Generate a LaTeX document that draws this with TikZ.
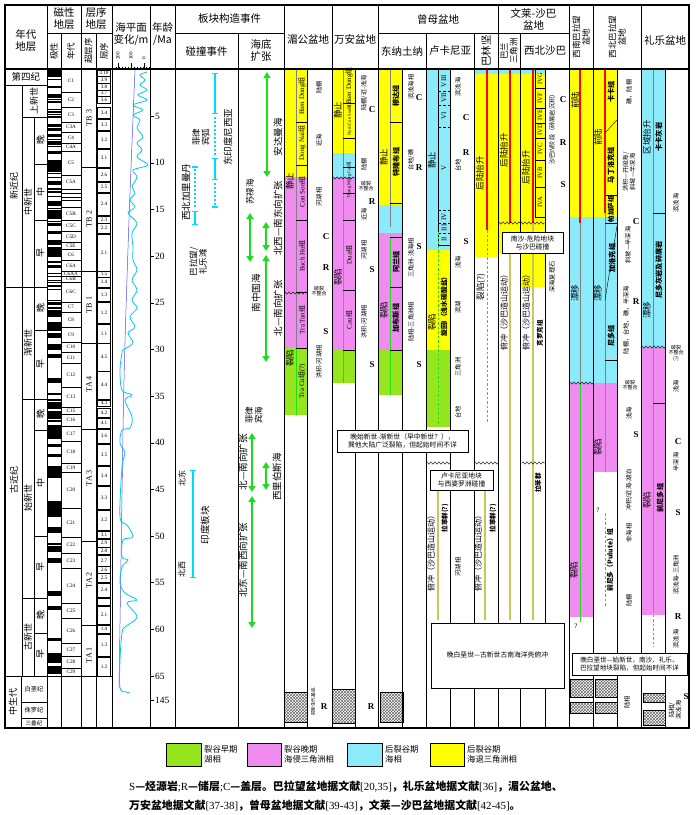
\documentclass[tikz,border=0pt]{standalone}
\usepackage{fontspec}
\setmainfont{Liberation Serif}
\newfontfamily\cjk{Noto Sans CJK SC}
\usepackage{xcolor}
\usetikzlibrary{arrows.meta, decorations.pathmorphing, patterns}

\definecolor{riftE}{RGB}{150,230,30}
\definecolor{riftL}{RGB}{240,140,240}
\definecolor{postM}{RGB}{140,235,250}
\definecolor{postR}{RGB}{255,255,0}
\definecolor{sprG}{RGB}{30,220,30}
\definecolor{barC}{RGB}{0,220,255}
\definecolor{seaC}{RGB}{0,200,240}
\definecolor{subL}{RGB}{200,200,90}

\newcommand{\zu}{{\cjk 组}}

\begin{document}
\begin{tikzpicture}[x=1pt,y=-1pt,
  thinl/.style={line width=0.4pt},
  thickl/.style={line width=0.9pt},
  hd/.style={font=\cjk\fontsize{10.5}{12}\selectfont, inner sep=0pt, align=center},
  shd/.style={font=\cjk\fontsize{8.5}{9.5}\selectfont, inner sep=0pt, align=center},
  lab/.style={font=\cjk\fontsize{6.2}{7}\selectfont, inner sep=0pt, align=center},
  vlab/.style={lab, rotate=90},
  stage/.style={font=\cjk\fontsize{8.5}{9}\selectfont, inner sep=0pt, rotate=90},
  fmz/.style={font=\cjk\bfseries\fontsize{7.2}{7.5}\selectfont, inner sep=0pt, rotate=90},
  tiny/.style={font=\cjk\fontsize{5}{5.6}\selectfont, inner sep=0pt, align=center},
  big/.style={font=\cjk\fontsize{9.5}{10.5}\selectfont, inner sep=0pt, align=center, rotate=90},
  chron/.style={font=\cjk\fontsize{9}{10}\selectfont, inner sep=0pt, align=center, rotate=90},
  fm/.style={font=\fontsize{7}{7}\selectfont, inner sep=0pt, rotate=90},
  crs/.style={font=\bfseries\fontsize{9}{9}\selectfont, inner sep=0pt},
  chr/.style={font=\fontsize{5.2}{5.4}\selectfont, inner sep=0pt},
  spread/.style={sprG, line width=1.5pt, {Triangle[length=6pt,width=7pt]}-{Triangle[length=6pt,width=7pt]}},
  ibar/.style={barC, line width=1.4pt, {Bar[width=6pt]}-{Bar[width=6pt]}},
  dbar/.style={barC, line width=1.4pt, dash pattern=on 2pt off 2pt},
  wavy/.style={decorate, decoration={zigzag, segment length=4pt, amplitude=1.2pt}},
  hatch/.style={pattern=crosshatch, pattern color=black!60},
  note/.style={font=\cjk\fontsize{6.8}{8}\selectfont, inner sep=0pt, align=center}
]
\useasboundingbox (0,0) rectangle (696,815);

% colour strips of the basins
\fill[postR] (284,69) rectangle (307,177);
\fill[riftL] (284,177) rectangle (307,348);
\fill[riftE] (284,348) rectangle (307,415);

\fill[postR] (332,69) rectangle (355,153);
\fill[postM] (332,153) rectangle (355,177);
\fill[riftL] (332,177) rectangle (355,350);
\fill[riftE] (332,350) rectangle (355,383);

\fill[postR] (378,69) rectangle (402,205);
\fill[postM] (378,205) rectangle (402,233);
\fill[riftL] (378,233) rectangle (402,350);
\fill[riftE] (378,350) rectangle (402,395);

\fill[postM] (426,69) rectangle (450,250);
\fill[postR] (426,250) rectangle (450,350);
\fill[riftE] (426,350) rectangle (450,427);

\fill[postM] (474,69) rectangle (545,74);
\fill[postR] (474,74) rectangle (498,257);
\fill[postR] (498,74) rectangle (520,253);
\fill[postR] (520,74) rectangle (545,287);

\fill[postR] (569,69) rectangle (617,217);
\fill[postM] (569,217) rectangle (617,383);
\fill[riftL] (569,383) rectangle (593,617);
\fill[riftL] (593,383) rectangle (617,472);

\fill[postM] (641,69) rectangle (665,347);
\fill[riftL] (641,347) rectangle (665,615);

% magnetic polarity (normal = black)
\foreach \a/\b in {0/0.78, 0.99/1.07, 1.77/1.95, 2.58/3.04, 3.11/3.22, 3.33/3.58, 4.18/4.29,
  4.48/4.62, 4.80/4.89, 4.98/5.23, 5.89/6.14, 6.27/6.57, 6.94/7.09, 7.14/7.17, 7.43/7.56,
  7.65/8.07, 8.23/8.26, 8.70/9.03, 9.74/9.88, 9.92/10.95, 11.05/11.10, 11.48/11.53,
  11.93/12.40, 12.68/12.71, 12.77/12.82, 13.01/13.20, 13.51/13.70, 14.08/14.61, 14.80/14.89,
  15.03/16.01, 16.29/16.33, 16.49/16.73, 17.28/17.62, 18.28/18.78, 19.05/20.13, 20.52/20.73,
  20.99/21.32, 21.77/21.86, 22.15/22.25, 22.55/22.60, 22.81/22.91, 23.07/23.35, 23.54/23.68,
  24.73/24.78, 24.91/25.26, 25.48/25.65, 25.82/26.55, 27.03/28.05, 28.28/28.75, 29.40/30.10,
  30.48/30.94, 33.06/33.55, 34.66/34.94, 35.34/35.53, 35.69/36.34, 36.62/37.47, 37.60/37.83,
  38.11/39.55, 40.13/40.50, 41.26/41.52, 42.54/43.79, 46.26/47.91, 49.04/49.71, 50.78/50.95,
  51.04/51.74, 52.36/52.90, 55.90/56.39, 57.55/57.91, 60.92/61.28, 62.50/63.63, 63.98/64.75}
  \fill (47,{69.5+9.33*\a}) rectangle (61,{69.5+9.33*\b});

% chrons
\foreach \t/\b/\l in {69/92/C1, 92/107/C2, 107/122/C3, 122/132/C3A, 132/143/C4, 143/151/C4A,
  151/175/C5, 175/189/C5A, 189/193/{}, 193/197/{}, 197/200/{}, 200/207/{}, 207/220/C5B,
  220/231/C5C, 231/242/C5D, 242/249/C5E, 249/260/C6, 260/271/C6A, 271/276/C6AA, 276/282/C6B,
  282/302/C6C, 302/312/C7, 312/327/C8, 327/342/C9, 342/352/C10, 352/363/C11, 363/387/C12,
  387/407/C13, 407/414/C15, 414/426/C16, 426/441/C17, 441/463/C18, 463/472/C19, 472/508/C20,
  508/537/C21, 537/553/C22, 553/568/C23, 568/603/C24, 603/618/C25, 618/643/C26, 643/656/C27,
  656/668/C28, 668/676/C29}
{
  \draw[thinl] (61,\b) -- (81,\b);
  \node[chr] (chr\b) at (71,{(\t+\b)/2}) {\l};
}

% sequences
\foreach \t/\b/\l in {70/76/3.10, 76/83/3.9, 83/90/3.8, 90/96/3.7, 96/103/3.6, 107/118/3.4,
  119/130/3.3, 131/148/3.2, 149/167/3.1, 168/181/2.6, 182/192/2.5, 193/215/2.4, 216/223/2.3,
  223/233/2.2, 234/271/2.1, 271/277/1.5, 277/287/1.4, 288/301/1.3, 302/323/1.2, 324/343/1.1,
  343/371/4.5, 371/399/4.4, 400/406/4.3, 408/417/4.2, 418/428/4.1, 429/443/3.6, 444/465/3.5,
  466/485/3.4, 486/509/3.3, 510/530/3.2, 531/538/3.1, 539/547/2.9, 547/554/2.8, 555/566/2.7,
  566/573/2.6, 573/582/2.5, 583/597/2.4, 598/605/{}, 606/624/2.1, 625/633/1.4, 634/656/1.3,
  657/676/1.2}
{
  \draw[thinl] (97.5,\t) rectangle (110.5,\b);
  \node[chr] (sq\b) at (104,{(\t+\b)/2}) {\l};
}
\draw[thinl] (81,167) -- (96,167);
\draw[thinl] (81,271) -- (96,271);
\draw[thinl] (81,343) -- (96,343);
\draw[thinl] (81,429) -- (96,429);
\draw[thinl] (81,541) -- (96,541);
\draw[thinl] (81,625) -- (96,625);
\node[fm, font=\fontsize{8}{8}\selectfont] (tb3) at (89,118) {TB 3};
\node[fm, font=\fontsize{8}{8}\selectfont] (tb2) at (89,219) {TB 2};
\node[fm, font=\fontsize{8}{8}\selectfont] (tb1) at (89,305) {TB 1};
\node[fm, font=\fontsize{8}{8}\selectfont] (ta4) at (89,384) {TA 4};
\node[fm, font=\fontsize{8}{8}\selectfont] (ta3) at (89,478) {TA 3};
\node[fm, font=\fontsize{8}{8}\selectfont] (ta2) at (89,580) {TA 2};
\node[fm, font=\fontsize{8}{8}\selectfont] (ta1) at (89,655) {TA 1};

% sea level curves
\draw[blue!70, line width=0.5pt] plot[smooth] coordinates {(135,70) (129,220) (124,380) (121,560) (119,688)};
\draw[seaC, line width=0.8pt] plot[smooth, tension=0.55] coordinates {(147,72) (140,75) (145,80) (140,85)
  (147,90) (138,95) (147,100) (133,105) (143,110) (133,115) (140,120) (137,128) (143,137)
  (137,143) (142,150) (137,157) (148,165) (133,170) (137,177) (132,187) (135,193) (130,200)
  (135,207) (128,213) (137,223) (132,233) (133,247) (133,260) (137,270) (132,280) (137,290)
  (132,300) (137,308) (130,317) (135,327) (128,333) (133,343) (123,350) (122,353) (120,370)
  (122,390) (132,395) (125,400) (132,417) (130,428) (122,430) (120,443) (125,453) (122,467)
  (120,517) (127,525) (133,537) (123,540) (122,557) (128,560) (122,567) (120,583) (125,593)
  (137,600) (127,603) (137,617) (125,627) (122,633) (120,660) (120,688) (126,692) (130,693)};

% age axis
\foreach \a in {5,10,...,65}
{
  \draw[thinl] (150,{69.5+9.33*\a}) -- (154,{69.5+9.33*\a});
  \node[font=\fontsize{9.5}{9.5}\selectfont, anchor=west, inner sep=0pt] (age\a) at (155,{69.5+9.33*\a}) {\a};
}
\draw[thinl] (150,700) -- (154,700);
\node[font=\fontsize{9.5}{9.5}\selectfont, anchor=west, inner sep=0pt] (age145) at (155,700) {145};

% sea level ruler in the head
\foreach \x in {116,119,...,149} \draw[thinl] (\x,66.5) -- (\x,69);
\draw[thinl] (118,63) -- (118,69);
\draw[thinl] (131,63) -- (131,69);
\draw[thinl] (144,63) -- (144,69);
\node[chr, rotate=90] (r200) at (118,56) {200};
\node[chr, rotate=90] (r100) at (131,56) {100};
\node[chr, rotate=90] (r0) at (144,58) {0};

% chronostratigraphy column
\draw[thinl] (5,85) -- (47,85);
\draw[thinl] (22,85) -- (22,676);
\draw[thinl] (34,117) -- (34,676);
\draw[thinl] (21,676) -- (21,728);
\draw[thinl] (5,287) -- (47,287);
\draw[thinl] (5,676) -- (112,676);
\draw[thinl] (22,117) -- (47,117);
\draw[thinl] (22,399) -- (47,399);
\draw[thinl] (22,598) -- (47,598);
\foreach \y in {164,220,330,430,536,633} \draw[thinl] (34,\y) -- (47,\y);
\draw[thinl] (21,702) -- (47,702);
\draw[thinl] (21,718) -- (47,718);
\node[shd, font=\cjk\fontsize{9.5}{10}\selectfont] (q) at (26,77) {第四纪};
\node[chron] (ng) at (14,186) {新近纪};
\node[chron] (pg) at (14,480) {古近纪};
\node[chron] (mz) at (13,702) {中生代};
\node[chron] (plio) at (34,101) {上新世};
\node[chron] (mio) at (28,202) {中新世};
\node[chron] (oli) at (28,343) {渐新世};
\node[chron] (eoc) at (28,498) {始新世};
\node[chron] (pal) at (28,637) {古新世};
\node[chron] (s1) at (40.5,140) {晚};
\node[chron] (s2) at (40.5,192) {中};
\node[chron] (s3) at (40.5,253) {早};
\node[chron] (s4) at (40.5,308) {晚};
\node[chron] (s5) at (40.5,364) {早};
\node[chron] (s6) at (40.5,414) {晚};
\node[chron] (s7) at (40.5,483) {中};
\node[chron] (s8) at (40.5,567) {早};
\node[chron] (s9) at (40.5,615) {晚};
\node[chron] (s10) at (40.5,654) {早};
\node[tiny, font=\cjk\fontsize{6.2}{6.5}\selectfont] (kk) at (34,689) {白垩纪};
\node[tiny, font=\cjk\fontsize{6.2}{6.5}\selectfont] (jj) at (34,710) {侏罗纪};
\node[tiny, font=\cjk\fontsize{5.6}{6}\selectfont] (tt) at (34,723) {三叠纪};

% tectonic events: collisions
\draw[ibar] (215,73) -- (215,114);
\draw[dbar] (215,117) -- (215,156);
\draw[ibar] (215,158) -- (215,180);
\draw[dbar] (215,183) -- (215,205);
\draw[barC, line width=1.4pt] (212,207) -- (218,207);
\node[big] (eindo) at (228,137) {东印度尼西亚};
\draw[barC, line width=1.4pt] (192,167) -- (198,167);
\draw[dbar] (195,169) -- (195,208);
\draw[ibar] (195,211) -- (195,225);
\node[big, font=\cjk\fontsize{8.5}{9.5}\selectfont] (phil) at (201,137) {菲律\\宾弧};
\node[big] (nwkal) at (186,192) {西北加里曼丹};
\node[big, font=\cjk\fontsize{8.5}{9.5}\selectfont] (palw) at (198,262) {巴拉望/\\礼乐滩};
\draw[ibar] (193,470) -- (193,578);
\node[big, font=\cjk\fontsize{8}{9}\selectfont] (ne) at (182,478) {北东};
\node[big, font=\cjk\fontsize{8}{9}\selectfont] (nw) at (182,569) {北西};
\node[big] (india) at (205,525) {印度板块};

% tectonic events: sea-floor spreading
\draw[spread] (267,72) -- (267,177);
\node[big] (anda) at (278,137) {安达曼海};
\draw[spread] (250,213) -- (250,262);
\node[big, font=\cjk\fontsize{8.5}{9.5}\selectfont] (sulu) at (250,192) {苏禄海};
\draw[spread] (266,222) -- (266,251);
\draw[spread] (266,255) -- (266,362);
\node[big] (nwse) at (278,218) {北西—南东向扩张};
\node[big] (ns1) at (278,308) {北—南向扩张};
\node[big] (scs) at (256,293) {南中国海};
\draw[spread] (252,433) -- (252,492);
\node[big] (ns2) at (243,462) {北—南向扩张};
\node[big, font=\cjk\fontsize{8.5}{9.5}\selectfont] (phsea) at (254,415) {菲律\\宾海};
\draw[spread] (266,462) -- (266,490);
\node[big] (celeb) at (277,477) {西里伯斯海};
\draw[spread] (252,496) -- (252,628);
\node[big] (nesw) at (243,560) {北东—南西向扩张};

% Mekong basin
\draw[gray, line width=0.8pt] (296,69) -- (296,348);
\draw[sprG, line width=0.8pt] (296,348) -- (296,415);
\foreach \y in {122,165,220,292,348} \draw[thinl] (296,\y) -- (307,\y);
\node[fm] (mk1) at (302,96) {Bien Dong\zu};
\node[fm] (mk2) at (302,143) {Dong Nai\zu};
\node[fm] (mk3) at (302,192) {Con Son\zu};
\node[fm] (mk4) at (302,256) {Bach Ho\zu};
\node[fm] (mk5) at (302,320) {Tra Tan\zu};
\node[fm] (mk6) at (302,381) {Tra Cu\zu(?)};
\draw[wavy, thinl] (284,293) -- (307,293);
\node[stage] (mkq) at (290,181) {静止};
\node[stage] (mkr) at (290,358) {裂陷};
\node[vlab] (mkt1) at (319,87) {陆棚};
\node[vlab] (mkt2) at (319,140) {近海};
\node[vlab] (mkt3) at (319,197) {河湖相};
\node[crs] (mkc) at (326,237) {C};
\node[crs] (mkr2) at (326,268) {R};
\node[tiny] (mkb) at (319,291) {破裂\\不整合};
\node[crs] (mks) at (326,332) {S};
\node[vlab] (mkt4) at (319,362) {洪积-河湖相};
\fill[hatch] (284,692) rectangle (307,722);
\draw[thinl] (284,692) rectangle (307,722);
\node[vlab, font=\cjk\fontsize{4.6}{5}\selectfont] (mkbase) at (313,702) {前新生代基底};
\node[crs] (mkr3) at (324,707) {R};

% Wan'an basin
\draw[gray, line width=0.8pt] (343,69) -- (343,177);
\draw[sprG, line width=0.8pt] (343,177) -- (343,383);
\foreach \y in {103,138,167,193,220,290,350} \draw[thinl] (343,\y) -- (355,\y);
\node[fm] (wa1) at (349,86) {Bien Dong\zu};
\node[fm, font=\fontsize{4.6}{5}\selectfont] (wa2) at (349,120) {Nam Con Son\zu};
\node[fm, font=\fontsize{4.6}{5}\selectfont] (wa3) at (349,180) {Thong Mang Cau\zu};
\node[fm] (wa4) at (349,255) {Dua\zu};
\node[fm] (wa5) at (349,320) {Cau\zu};
\draw[wavy, thinl] (332,178) -- (355,178);
\node[stage] (waq) at (338,110) {静止};
\node[stage] (war) at (338,277) {裂陷};
\node[vlab] (wat1) at (364,93) {陆棚/近-浅海};
\node[crs] (wac) at (372,110) {C};
\node[vlab] (wat2) at (364,164) {陆棚};
\node[tiny] (wab) at (366,186) {破裂\\不整合};
\node[crs] (war2) at (372,202) {R};
\node[vlab] (wat3) at (364,214) {近海};
\node[vlab] (wat4) at (364,250) {河湖相};
\node[crs] (was) at (372,270) {S};
\node[vlab] (wat5) at (364,322) {洪积-河湖相};
\node[crs] (was2) at (372,365) {S};
\fill[hatch] (332,689) rectangle (355,723);
\draw[thinl] (332,689) rectangle (355,723);
\node[crs] (war3) at (371,707) {R};

% East Natuna
\draw[gray, line width=0.8pt] (390,69) -- (390,227);
\draw[sprG, line width=0.8pt] (390,237) -- (390,395);
\foreach \y in {122,203,237,287,350} \draw[thinl] (390,\y) -- (402,\y);
\node[fmz] (en1) at (396,96) {穆达组};
\node[fmz] (en2) at (396,162) {特隆布组};
\node[fmz] (en3) at (396,262) {阿兰组};
\node[fmz] (en4) at (396,318) {加布斯组};
\node[stage] (enq) at (384,157) {静止};
\node[stage] (enr) at (384,310) {裂陷};
\node[vlab] (ent1) at (411,87) {滨浅海相};
\node[crs] (enc) at (419,98) {C};
\node[vlab] (ent2) at (411,160) {台地/礁};
\node[crs] (enr2) at (419,168) {R};
\node[crs] (ens) at (419,247) {S};
\node[vlab] (ent3) at (411,258) {三角洲-浅海相};
\node[vlab] (ent4) at (411,322) {陆相-三角洲相};
\node[crs] (ens2) at (419,365) {S};
\fill[hatch] (380,692) rectangle (403,722);
\draw[thinl] (380,692) rectangle (403,722);

% Luconia
\draw[thinl] (438,69) -- (438,245);
\draw[thinl, densely dashed] (438,91) -- (450,91);
\draw[thinl, densely dashed] (438,105) -- (450,105);
\draw[thinl, densely dashed] (438,127) -- (450,127);
\draw[thinl, densely dashed] (438,210) -- (450,210);
\draw[thinl, densely dashed] (438,223) -- (450,223);
\draw[thinl, densely dashed] (438,233) -- (450,233);
\draw[thinl] (438,245) -- (450,245);
\node[fm] (lu1) at (444,81) {VIII};
\node[fm] (lu2) at (444,98) {VII};
\node[fm] (lu3) at (444,116) {VI};
\node[fm] (lu4) at (444,168) {V};
\node[fm] (lu5) at (444,217) {IV};
\node[fm] (lu6) at (444,228) {III};
\node[fm] (lu7) at (444,239) {II};
\draw[sprG, line width=1pt, dash pattern=on 2.5pt off 2pt] (438,232) -- (438,425);
\node[stage] (luq) at (432,160) {静止};
\node[stage] (lur) at (432,322) {裂陷};
\node[fmz, font=\cjk\bfseries\fontsize{6.8}{7}\selectfont] (lucy) at (444,305) {旋回I（浅水碳酸盐）};
\node[vlab] (lut1) at (458,87) {滨浅海};
\node[crs] (luc) at (466,118) {C};
\node[crs] (lur2) at (466,153) {R};
\node[vlab] (lut2) at (458,165) {台地};
\node[crs] (lus) at (466,242) {S};
\node[vlab] (lut3) at (458,262) {浅海};
\node[vlab] (lut4) at (458,307) {滨湖};
\node[vlab] (lut5) at (458,367) {三角洲};
\node[vlab] (lut6) at (458,412) {台地};
\draw[wavy, thinl] (426,463) -- (450,463);
\draw[subL, line width=1.2pt] (438,490) -- (438,620);
\node[vlab, font=\cjk\fontsize{8}{8}\selectfont] (lusu) at (431,551) {俯冲（沙巴造山运动）};
\node[fmz, font=\cjk\bfseries\fontsize{6.5}{7}\selectfont] (lula) at (445,518) {拉苯群(?)};
\node[vlab] (lut7) at (458,567) {河湖相};

% Balingian
\draw[red, line width=1.2pt] (487,69) -- (487,230);
\draw[sprG, line width=1pt, dash pattern=on 2.5pt off 2pt] (487,230) -- (487,423);
\node[stage] (baq) at (480,173) {后陆抬升};
\node[stage] (bar) at (481,287) {裂陷(?)};
\draw[wavy, thinl] (474,463) -- (498,463);
\draw[subL, line width=1.2pt] (485,490) -- (485,620);
\node[vlab, font=\cjk\fontsize{8}{8}\selectfont] (basu) at (478,551) {俯冲（沙巴造山运动）};
\node[fmz, font=\cjk\bfseries\fontsize{6.5}{7}\selectfont] (bala) at (493,518) {拉苯群(?)};

% Baram delta
\draw[red, line width=1.2pt] (510,69) -- (510,223);
\draw[wavy, thinl] (498,223) -- (520,223);
\node[stage] (bmq) at (504,150) {后陆抬升};
\draw[subL, line width=1.2pt] (510,253) -- (510,620);
\node[vlab, font=\cjk\fontsize{8}{8}\selectfont] (bmsu) at (504,310) {俯冲（沙巴造山运动）};

% NW Sabah
\draw[red, line width=1.2pt] (533,69) -- (533,223);
\draw[wavy, thinl] (520,223) -- (545,223);
\draw[thinl] (535,69) rectangle (545,217);
\foreach \y in {88,108,123,138,160,187} \draw[thinl] (535,\y) -- (545,\y);
\node[fm, font=\fontsize{6.5}{6.5}\selectfont] (sb1) at (540,79) {IVG};
\node[fm, font=\fontsize{6.5}{6.5}\selectfont] (sb2) at (540,98) {IVF};
\node[fm, font=\fontsize{6.5}{6.5}\selectfont] (sb3) at (540,115) {IVE};
\node[fm, font=\fontsize{6.5}{6.5}\selectfont] (sb4) at (540,130) {IVD};
\node[fm, font=\fontsize{6.5}{6.5}\selectfont] (sb5) at (540,149) {IVC};
\node[fm, font=\fontsize{6.5}{6.5}\selectfont] (sb6) at (540,173) {IVB};
\node[fm, font=\fontsize{6.5}{6.5}\selectfont] (sb7) at (540,202) {IVA};
\node[stage] (sbq) at (526,167) {后陆抬升};
\draw[subL, line width=1.2pt] (533,223) -- (533,620);
\node[vlab, font=\cjk\fontsize{8}{8}\selectfont] (sbsu) at (526,310) {俯冲（沙巴造山运动）};
\node[fmz, font=\cjk\bfseries\fontsize{6.5}{7}\selectfont] (sbkr) at (540,333) {克罗克组};
\node[crs] (sbc) at (563,100) {C};
\node[vlab] (sbt1) at (552,128) {沙巴IV阶段（碎屑岩沉积）};
\node[crs] (sbr) at (563,143) {R};
\node[crs] (sbs) at (563,185) {S};
\node[vlab] (sbt2) at (552,277) {深海复理石};
\draw[wavy, thinl] (522,463) -- (545,463);
\node[fmz, font=\cjk\bfseries\fontsize{6.5}{7}\selectfont] (sbla) at (538,483) {拉苯群};

% SW Palawan
\draw[red, line width=1.2pt] (580,69) -- (580,223);
\draw[gray, line width=0.8pt] (580,223) -- (580,383);
\draw[sprG, line width=0.8pt] (580,383) -- (580,622);
\draw[wavy, thinl] (569,383) -- (593,383);
\node[stage] (swq) at (575,100) {前陆};
\node[stage] (swd) at (575,293) {漂移};
\node[stage] (swr) at (574,570) {裂陷};
\node[font=\fontsize{7}{7}\selectfont, inner sep=0pt] (swx) at (576,626) {?};
\fill[hatch] (570,679) rectangle (593,697);
\fill[hatch] (570,702) rectangle (593,713);
\draw[thinl] (570,679) rectangle (593,697);
\draw[thinl] (570,702) rectangle (593,713);

% NW Palawan
\draw[red, line width=1.2pt] (605,69) -- (605,213);
\draw[gray, line width=0.8pt] (605,213) -- (605,383);
\draw[sprG, line width=0.8pt] (605,383) -- (605,472);
\draw[sprG, line width=1pt, dash pattern=on 2.5pt off 2pt] (605,513) -- (605,607);
\draw[thinl] (605,360) -- (617,360);
\draw[thinl] (617,120) -- (605,133);
\draw[thinl] (605,195) -- (617,195);
\draw[thinl] (605,223) -- (617,223);
\draw[thinl] (617,226) -- (605,300);
\node[fmz] (np1) at (611,92) {卡卡组};
\node[fmz] (np2) at (611,165) {马丁洛克组};
\node[fmz, font=\cjk\bfseries\fontsize{6.5}{7}\selectfont] (np3) at (611,209) {帕加萨组};
\node[fmz] (np4) at (612,258) {加洛克组};
\node[fmz] (np5) at (611,336) {尼多组};
\node[stage] (npq) at (598,137) {前陆};
\node[stage] (npd) at (598,293) {漂移};
\node[stage] (npr) at (598,447) {裂陷};
\node[font=\fontsize{7}{7}\selectfont, inner sep=0pt] (npx) at (598,510) {?};
\node[fmz, font=\cjk\bfseries\fontsize{6.8}{7}\selectfont] (np6) at (610,560) {前尼多（Pulute）组};
\node[vlab] (npt1) at (629,92) {礁，陆棚};
\node[vlab] (npt2) at (629,172) {洪积—开阔海/\\斜坡—半深海};
\node[crs] (npc) at (636,222) {C};
\node[vlab] (npt3) at (628,245) {斜坡—半深海};
\node[crs] (npr2) at (636,302) {R};
\node[vlab] (npt4) at (626,320) {陆棚，台地，礁，半深海};
\node[tiny] (npb) at (630,385) {破裂\\不整合};
\node[vlab] (npt5) at (629,413) {浅海};
\node[crs] (nps) at (636,435) {S};
\node[vlab] (npt6) at (629,490) {冲积/近海-湖泊};
\node[vlab] (npt7) at (629,533) {非海相};
\node[vlab] (npt8) at (629,600) {陆棚};
\fill[hatch] (595,679) rectangle (617,697);
\fill[hatch] (595,702) rectangle (617,713);
\draw[thinl] (595,679) rectangle (617,697);
\draw[thinl] (595,702) rectangle (617,713);
\node[vlab] (npt9) at (627,702) {陆相};

% Reed Bank
\draw[gray, line width=0.8pt] (653,69) -- (653,347);
\draw[sprG, line width=0.8pt] (653,347) -- (653,610);
\draw[sprG, line width=1pt, dash pattern=on 2.5pt off 2pt] (653,610) -- (653,647);
\draw[wavy, thinl] (641,347) -- (665,347);
\draw[thinl] (653,213) -- (665,213);
\draw[thinl] (653,403) -- (665,403);
\node[fmz] (rb1) at (659,137) {卡卡灰岩};
\node[fmz] (rb2) at (659,270) {尼多灰岩及碎屑岩};
\node[fmz] (rb3) at (660,498) {前尼多组};
\node[stage] (rbq) at (647,137) {区域抬升};
\node[stage] (rbd) at (647,310) {漂移};
\node[stage] (rbr) at (647,500) {裂陷};
\node[vlab] (rbt1) at (676,203) {滨浅海};
\node[tiny] (rbb) at (676,353) {破裂\\不整合\\(?)};
\node[vlab] (rbt2) at (676,386) {浅海};
\node[crs] (rbc) at (678,442) {C};
\node[vlab] (rbt3) at (676,462) {半深海};
\node[crs] (rbs) at (678,513) {S};
\node[vlab] (rbt4) at (676,575) {滨浅海-三角洲};
\node[crs] (rbr2) at (678,617) {R};
\node[vlab] (rbt5) at (676,639) {滨浅海};
\fill[hatch] (643,693) rectangle (665,702);
\fill[hatch] (643,710) rectangle (665,725);
\draw[thinl] (643,693) rectangle (665,702);
\draw[thinl] (643,710) rectangle (665,725);
\node[vlab] (rbt6) at (675,710) {陆相/\\滨浅海};
\node[crs] (rbs2) at (686,697) {S};

% column rules
\foreach \x in {47,81,112,150} \draw[thinl] (\x,5) -- (\x,728);
\foreach \x in {61,96,238,426,474,520} \draw[thinl] (\x,33) -- (\x,728);
\foreach \x in {307,355,402,450,545,617,665} \draw[thinl] (\x,69) -- (\x,728);
\foreach \x in {175,284,332,378,498,569,593,641} \draw[thickl] (\x,5) -- (\x,728);
\draw[thinl] (47,33) -- (112,33);
\draw[thinl] (175,33) -- (284,33);
\draw[thinl] (378,33) -- (569,33);

% notes
\draw[thinl, fill=white] (337,430) rectangle (468,452);
\node[note] (n1) at (402.5,441) {晚始新世-渐新世（早中新世？），\\巽他大陆广泛裂陷，但起始时间不详};
\draw[thinl, fill=white] (430,470) rectangle (493,490);
\node[note] (n2) at (461.5,480) {卢卡尼亚地块\\与西婆罗洲碰撞};
\draw[thinl, fill=white] (502,232) rectangle (563,253);
\node[note] (n3) at (532.5,242.5) {南沙-危险地块\\与沙巴碰撞};
\draw[thinl, fill=white] (431,623) rectangle (564,688);
\node[note] (n4) at (497.5,655) {晚白垩世—古新世古南海洋壳俯冲};
\draw[thinl, fill=white] (572,653) rectangle (687,675);
\node[note, font=\cjk\fontsize{6.6}{8}\selectfont] (n5) at (629.5,664) {晚白垩世—始新世，南沙、礼乐、\\巴拉望地块裂陷，但起始时间不详};

% head
\draw[line width=1.1pt] (5,69) -- (689,69);
\draw[line width=1.2pt] (5,5) rectangle (689,728);
\node[hd] (h1) at (26,41) {年代\\地层};
\node[hd] (h2) at (64,19) {磁性\\地层};
\node[shd, rotate=90] (h2a) at (54,51) {极性};
\node[shd, rotate=90] (h2b) at (71,51) {年代};
\node[hd] (h3) at (96,19) {层序\\地层};
\node[shd, rotate=90] (h3a) at (88.5,51) {超层序};
\node[shd, rotate=90] (h3b) at (104,51) {层序};
\node[hd] (h4) at (131,34) {海平面\\变化/m};
\node[hd] (h5) at (162.5,34) {年龄\\/Ma};
\node[hd] (h6) at (229.5,19) {板块构造事件};
\node[hd] (h6a) at (206.5,51) {碰撞事件};
\node[hd] (h6b) at (261,51) {海底\\扩张};
\node[hd] (h7) at (308,40) {湄公盆地};
\node[hd] (h8) at (355,40) {万安盆地};
\node[hd] (h9) at (438,19) {曾母盆地};
\node[hd] (h9a) at (402,51) {东纳土纳};
\node[hd] (h9b) at (450,51) {卢卡尼亚};
\node[hd, rotate=90] (h9c) at (486,51) {巴林坚};
\node[hd] (h10) at (533.5,19) {文莱-沙巴\\盆地};
\node[shd, rotate=90] (h10a) at (509,51) {巴兰\\三角洲};
\node[hd] (h10b) at (545,51) {西北沙巴};
\node[shd, rotate=90] (h11) at (581,37) {西南巴拉望\\盆地};
\node[shd, rotate=90] (h12) at (617,37) {西北巴拉望\\盆地};
\node[hd] (h13) at (665,40) {礼乐盆地};

% legend
\draw[thinl, fill=riftE] (166,743) rectangle (201,766);
\node[lab, font=\cjk\fontsize{8.3}{10}\selectfont, anchor=west, align=left] (lg1) at (204,754.5) {裂谷早期\\湖相};
\draw[thinl, fill=riftL] (247,743) rectangle (281,766);
\node[lab, font=\cjk\fontsize{8.3}{10}\selectfont, anchor=west, align=left] (lg2) at (284,754.5) {裂谷晚期\\海侵三角洲相};
\draw[thinl, fill=postM] (347,743) rectangle (382,766);
\node[lab, font=\cjk\fontsize{8.3}{10}\selectfont, anchor=west, align=left] (lg3) at (385,754.5) {后裂谷期\\海相};
\draw[thinl, fill=postR] (430,743) rectangle (464,766);
\node[lab, font=\cjk\fontsize{8.3}{10}\selectfont, anchor=west, align=left] (lg4) at (467,754.5) {后裂谷期\\海退三角洲相};

% caption
\node[anchor=west, inner sep=0pt, font=\fontsize{10.9}{11}\selectfont] (cap1) at (129,787)
  {S{\cjk\bfseries —烃源岩};R{\cjk\bfseries —储层};C{\cjk\bfseries —盖层。巴拉望盆地据文献}[20,35]{\cjk\bfseries ，礼乐盆地据文献}[36]{\cjk\bfseries ，湄公盆地、}};
\node[anchor=west, inner sep=0pt, font=\fontsize{10.9}{11}\selectfont] (cap2) at (129,806)
  {{\cjk\bfseries 万安盆地据文献}[37-38]{\cjk\bfseries ，曾母盆地据文献}[39-43]{\cjk\bfseries ，文莱—沙巴盆地据文献}[42-45]{\cjk\bfseries 。}};
\end{tikzpicture}
\end{document}
